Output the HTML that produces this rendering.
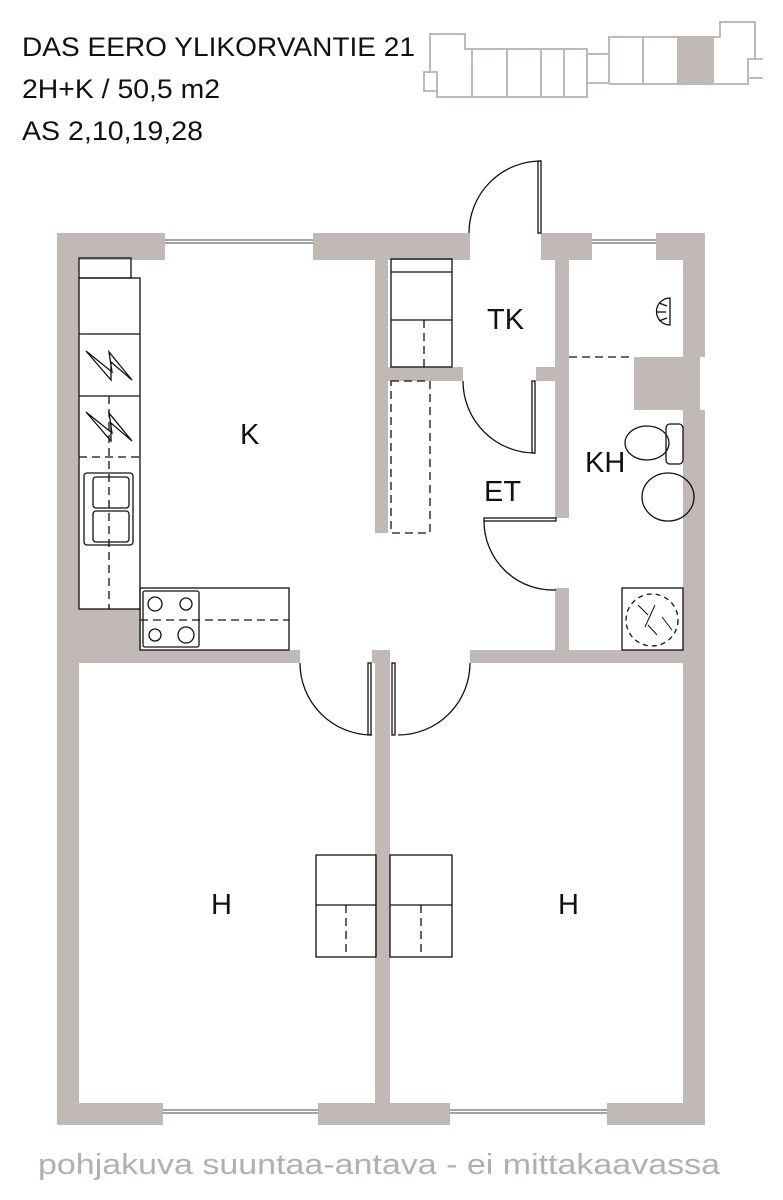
<!DOCTYPE html>
<html><head><meta charset="utf-8"><style>
html,body{margin:0;padding:0;background:#fff;width:783px;height:1200px;overflow:hidden}
svg{display:block}
text{font-family:"Liberation Sans",Arial,sans-serif}
</style></head><body>
<svg width="783" height="1200" viewBox="0 0 783 1200" xmlns="http://www.w3.org/2000/svg">
<g font-size="27" fill="#111">
<text x="22" y="56" textLength="393" lengthAdjust="spacingAndGlyphs">DAS EERO YLIKORVANTIE 21</text>
<text x="22" y="98" textLength="198" lengthAdjust="spacingAndGlyphs">2H+K / 50,5 m2</text>
<text x="22" y="140" textLength="181" lengthAdjust="spacingAndGlyphs">AS 2,10,19,28</text>
</g>
<!-- key plan -->
<g fill="none" stroke="#c1b9b5" stroke-width="2">
<polyline points="437,90 437,97 587,97 587,49 465,49 465,34 430,34 430,72"/>
<rect x="424" y="72" width="13" height="19"/>
<line x1="472" y1="49" x2="472" y2="97"/><line x1="507" y1="49" x2="507" y2="97"/>
<line x1="541" y1="49" x2="541" y2="97"/><line x1="564" y1="49" x2="564" y2="97"/>
<polyline points="587,54 609,54"/><polyline points="587,83 609,83"/>
<polyline points="609,83 609,37 720,37 720,22 755,22 755,59"/>
<polyline points="609,84 748,84 748,59 763,59"/><line x1="748" y1="78" x2="763" y2="78"/>
<line x1="643" y1="37" x2="643" y2="84"/><line x1="678" y1="37" x2="678" y2="84"/><line x1="713" y1="37" x2="713" y2="84"/>
</g>
<rect x="678" y="37" width="35" height="47" fill="#c1b9b5"/>

<!-- walls -->
<g fill="#c1b9b5">
<rect x="57" y="233" width="413" height="27"/>
<rect x="541" y="233" width="164" height="27"/>
<rect x="57" y="233" width="22" height="892"/>
<rect x="683" y="233" width="22" height="892"/>
<rect x="57" y="1103" width="648" height="22"/>
<rect x="375" y="260" width="13" height="273"/>
<rect x="555" y="260" width="14" height="258"/>
<rect x="375" y="367" width="88" height="14"/>
<rect x="536" y="367" width="20" height="14"/>
<rect x="555" y="588" width="14" height="70"/>
<rect x="634" y="357" width="50" height="53"/>
<rect x="79" y="609" width="62" height="42"/>
<rect x="79" y="650" width="221" height="13"/>
<rect x="372" y="650" width="18" height="13"/>
<rect x="375" y="650" width="15" height="453"/>
<rect x="470" y="650" width="213" height="13"/>
</g>
<!-- windows -->
<g fill="#fff" stroke="none">
<rect x="165" y="233" width="148" height="27"/>
<rect x="592" y="233" width="64" height="27"/>
<rect x="163" y="1103" width="155" height="22"/>
<rect x="450" y="1103" width="157" height="22"/>
<rect x="700" y="357" width="5" height="53"/>
</g>
<g stroke="#444" stroke-width="1" fill="none">
<line x1="165" y1="240" x2="313" y2="240"/><line x1="165" y1="243" x2="313" y2="243"/>
<line x1="592" y1="240" x2="656" y2="240"/><line x1="592" y1="243" x2="656" y2="243"/>
<line x1="163" y1="1110" x2="318" y2="1110"/><line x1="163" y1="1113" x2="318" y2="1113"/>
<line x1="450" y1="1110" x2="607" y2="1110"/><line x1="450" y1="1113" x2="607" y2="1113"/>
</g>

<g stroke="#111" stroke-width="1.3" fill="none">
<!-- doors -->
<path d="M469,233 A72,72 0 0 1 541,161"/><rect x="538" y="161" width="3" height="72"/>
<path d="M463,381 A72,72 0 0 0 535,453"/><rect x="532" y="381" width="3" height="72"/>
<path d="M484,521 A69,69 0 0 0 556,590"/><rect x="484" y="518" width="72" height="3"/>
<path d="M300,663 A72,72 0 0 0 372,735"/><rect x="368" y="663" width="3" height="72"/>
<path d="M470,663 A72,72 0 0 1 398,735"/><rect x="392" y="663" width="3" height="72"/>
<!-- kitchen -->
<rect x="79" y="258" width="52" height="20"/>
<rect x="79" y="278" width="61" height="331"/>
<line x1="79" y1="334" x2="140" y2="334"/><line x1="79" y1="396" x2="140" y2="396"/>
<line x1="79" y1="457" x2="140" y2="457" stroke-dasharray="8,5"/>
<line x1="109" y1="396" x2="109" y2="609" stroke-dasharray="8,5"/>
<rect x="84" y="473" width="49" height="72" rx="3"/>
<rect x="93" y="477" width="36" height="31" rx="3"/><rect x="93" y="511" width="36" height="31" rx="3"/>
<path d="M86,351 L112,372 L109,352 L132,380 L111,362 L111,380 Z"/>
<path d="M86,412 L112,433 L109,413 L132,441 L111,423 L111,441 Z"/>
<rect x="140" y="588" width="149" height="62"/>
<rect x="143" y="591" width="56" height="56" rx="2"/>
<line x1="140" y1="620" x2="289" y2="620" stroke-dasharray="8,5"/>
<circle cx="155" cy="604" r="7"/><circle cx="186" cy="604" r="6"/>
<circle cx="155" cy="635" r="6"/><circle cx="186" cy="635" r="8"/>
<!-- wardrobes -->
<rect x="391" y="259" width="61" height="108"/>
<line x1="391" y1="272" x2="452" y2="272"/><line x1="391" y1="320" x2="452" y2="320"/>
<line x1="424" y1="320" x2="424" y2="367" stroke-dasharray="8,5"/>
<rect x="391" y="381" width="39" height="152" stroke-dasharray="8,5"/>
<rect x="316" y="855" width="60" height="102"/><line x1="316" y1="905" x2="376" y2="905"/>
<line x1="346" y1="905" x2="346" y2="957" stroke-dasharray="8,5"/>
<rect x="390" y="855" width="62" height="102"/><line x1="390" y1="905" x2="452" y2="905"/>
<line x1="421" y1="905" x2="421" y2="957" stroke-dasharray="8,5"/>
<!-- bathroom -->
<line x1="569" y1="357" x2="634" y2="357" stroke-dasharray="8,5"/>
<path d="M670,298 A13,13 0 0 0 670,325 Z"/>
<line x1="657" y1="312" x2="666" y2="312"/><line x1="659" y1="303" x2="667" y2="306"/><line x1="659" y1="321" x2="667" y2="318"/>
<rect x="666" y="424" width="17" height="40" rx="4"/>
<ellipse cx="647" cy="443" rx="22" ry="17"/>
<ellipse cx="668" cy="497" rx="26" ry="24"/>
<rect x="622" y="588" width="61" height="62"/>
<circle cx="652" cy="620" r="26" stroke-dasharray="5,4"/>
<path d="M638,605 L648,615 M655,605 L645,627 M662,617 L672,630 M648,625 L657,635" stroke-width="1"/>
</g>
<g font-size="29" fill="#111">
<text x="240" y="444">K</text>
<text x="487" y="329">TK</text>
<text x="484" y="501">ET</text>
<text x="585" y="472">KH</text>
<text x="211" y="914">H</text>
<text x="558" y="914">H</text>
</g>
<text x="38" y="1174" font-size="29" fill="#b5aeab" textLength="682" lengthAdjust="spacingAndGlyphs">pohjakuva suuntaa-antava - ei mittakaavassa</text>
</svg>
</body></html>
